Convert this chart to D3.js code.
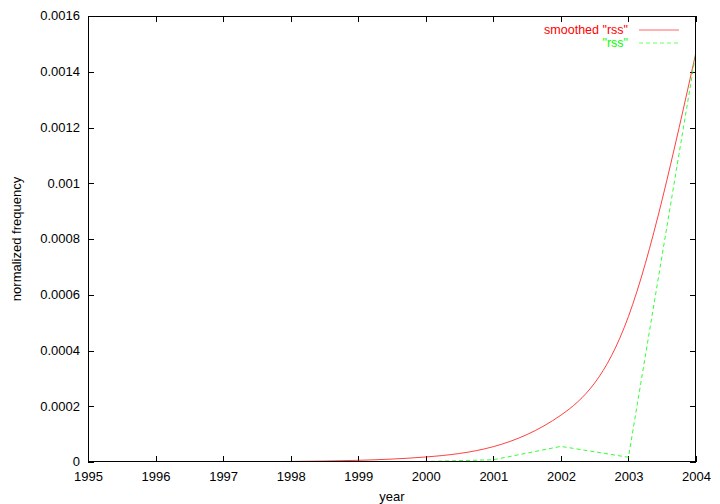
<!DOCTYPE html>
<html>
<head>
<meta charset="utf-8">
<script src="https://cdn.jsdelivr.net/npm/d3@7"></script>
<style>
  body { margin: 0; background: #fff; }
  svg { display: block; }
  text { font-family: "Liberation Sans", Arial, Helvetica, sans-serif; font-size: 13px; fill: #000; }
</style>
</head>
<body>
<svg id="chart" width="720" height="504"></svg>
<script>
// ---- data ----
const years = [1995, 1996, 1997, 1998, 1999, 2000, 2001, 2002, 2003, 2004];
const rawValues = [0, 0, 0, 0, 0, 0.000002, 0.000008, 0.000056, 0.000017, 0.00147];
const smoothValues = [0.0000001, 0.0000003, 0.0000008, 0.000002, 0.000006, 0.000018, 0.000055, 0.000168, 0.000522, 0.00147];

const xTicks = [1995, 1996, 1997, 1998, 1999, 2000, 2001, 2002, 2003, 2004];
const yTicks = [0, 0.0002, 0.0004, 0.0006, 0.0008, 0.001, 0.0012, 0.0014, 0.0016];
const yTickLabels = ["0", "0.0002", "0.0004", "0.0006", "0.0008", "0.001", "0.0012", "0.0014", "0.0016"];
const seriesNames = ['smoothed "rss"', '"rss"'];
const seriesColors = ["#ff0000", "#00ff00"];

// ---- layout ----
const L = 88, R = 696, T = 16, B = 462;
const svg = d3.select("#chart");
const x = d3.scaleLinear().domain([1995, 2004]).range([L, R]);
const y = d3.scaleLinear().domain([0, 0.0016]).range([B, T]);
const tickLen = 6;

// axes
const bottomAxis = d3.axisBottom(x).tickValues(xTicks).tickFormat(d3.format("d")).tickSize(0).tickPadding(10);
const gB = svg.append("g").attr("transform", `translate(0,${B})`).call(bottomAxis);
gB.select(".domain").remove();
gB.selectAll("text").style("font-size", "13px").attr("fill", "#000");

const leftAxis = d3.axisLeft(y).tickValues(yTicks).tickFormat((d, i) => yTickLabels[i]).tickSize(0).tickPadding(8);
const gL = svg.append("g").attr("transform", `translate(${L},0)`).call(leftAxis);
gL.select(".domain").remove();
gL.selectAll("text").style("font-size", "13px").attr("fill", "#000").attr("dy", "0.3em");

// tick marks (inward, mirrored)
const tg = svg.append("g").attr("stroke", "#000").attr("stroke-width", 1);
xTicks.forEach(t => {
  const px = Math.round(x(t)) + 0.5;
  tg.append("line").attr("x1", px).attr("x2", px).attr("y1", B).attr("y2", B - tickLen);
  tg.append("line").attr("x1", px).attr("x2", px).attr("y1", T).attr("y2", T + tickLen);
});
yTicks.forEach(t => {
  const py = Math.round(y(t)) + 0.5;
  tg.append("line").attr("x1", L).attr("x2", L + tickLen).attr("y1", py).attr("y2", py);
  tg.append("line").attr("x1", R).attr("x2", R - tickLen).attr("y1", py).attr("y2", py);
});

// axis titles
svg.append("text").attr("x", (L + R) / 2).attr("y", 501).attr("text-anchor", "middle").text("year");
svg.append("text").attr("transform", `translate(21,${(T + B) / 2}) rotate(-90)`).attr("text-anchor", "middle").text("normalized frequency");

// clip
svg.append("clipPath").attr("id", "clip").append("rect").attr("x", L).attr("y", T).attr("width", R - L).attr("height", B - T);

// lines
const smoothData = years.map((d, i) => [d, smoothValues[i]]);
const rawData = years.map((d, i) => [d, rawValues[i]]);
const lineSmooth = d3.line().x(d => x(d[0])).y(d => y(d[1])).curve(d3.curveNatural);
const lineRaw = d3.line().x(d => x(d[0])).y(d => y(d[1]));

const plot = svg.append("g").attr("clip-path", "url(#clip)");
plot.append("path").datum(smoothData).attr("d", lineSmooth).attr("fill", "none").attr("stroke", seriesColors[0]).attr("stroke-width", 1).attr("stroke-opacity", 0.75);
plot.append("path").datum(rawData).attr("d", lineRaw).attr("fill", "none").attr("stroke", seriesColors[1]).attr("stroke-width", 1).attr("stroke-opacity", 0.8).attr("stroke-dasharray", "4,3");

// border
svg.append("rect").attr("x", L + 0.5).attr("y", T + 0.5).attr("width", R - L - 1).attr("height", B - T - 1)
  .attr("fill", "none").attr("stroke", "#000").attr("stroke-width", 1);

// legend
const legend = svg.append("g");
seriesNames.forEach((name, i) => {
  const ly = 30 + i * 13;
  legend.append("text").attr("x", 628).attr("y", ly).attr("dy", "0.35em").attr("text-anchor", "end")
    .style("font-size", "12.5px").style("fill", seriesColors[i]).text(name);
  legend.append("line").attr("x1", 639).attr("x2", 679).attr("y1", ly).attr("y2", ly)
    .attr("stroke", seriesColors[i]).attr("stroke-width", 1).attr("stroke-opacity", 0.6)
    .attr("stroke-dasharray", i === 1 ? "4,3" : null);
});
</script>
</body>
</html>
